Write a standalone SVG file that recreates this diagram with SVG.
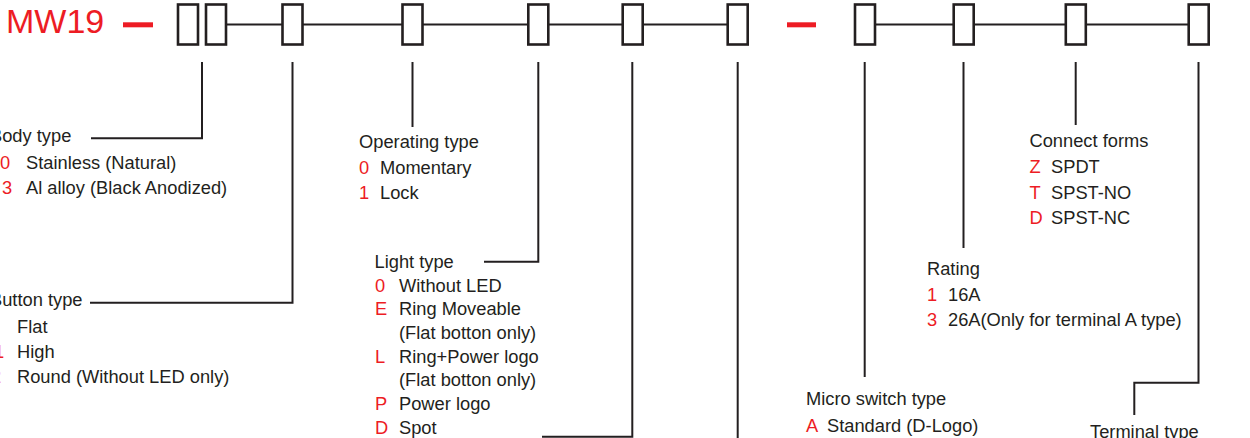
<svg xmlns="http://www.w3.org/2000/svg" width="1250" height="438" viewBox="0 0 1250 438">
<style>
text{font-family:"Liberation Sans",Arial,sans-serif;font-size:18.3px;fill:#231f20}
.r{fill:#ed1c24}
.box{fill:#fff;stroke:#231f20;stroke-width:2.6}
.ln{fill:none;stroke:#231f20;stroke-width:2}
.dash{fill:#ed1c24}
</style>
<rect width="1250" height="438" fill="#fff"/>
<g id="code">
<text x="6" y="33" class="r" style="font-size:34px">MW19</text>
<rect class="dash" x="123" y="22.3" width="30" height="5"/>
<rect class="dash" x="787" y="22.3" width="29" height="5"/>
</g>
<g id="connectors">
<path class="ln" d="M227 24.5H282.5M303 24.5H402.5M422.5 24.5H528.3M548.3 24.5H622.7M642.7 24.5H727.7M875 24.5H953.7M973.7 24.5H1065.8M1085.8 24.5H1188.7"/>
<path class="ln" d="M202 62V138.3H91"/>
<path class="ln" d="M292.5 62V302.7H90"/>
<path class="ln" d="M412.5 62V127"/>
<path class="ln" d="M538.3 62V261.7H484"/>
<path class="ln" d="M632.3 62V436.7H542"/>
<path class="ln" d="M737.7 62V440"/>
<path class="ln" d="M864.7 62V377"/>
<path class="ln" d="M963.5 62V248"/>
<path class="ln" d="M1075.7 62V125"/>
<path class="ln" d="M1198.5 62V382.7H1134.3V415"/>
</g>
<g id="boxes">
<rect class="box" x="178" y="4.5" width="20" height="40"/>
<rect class="box" x="206" y="4.5" width="20" height="40"/>
<rect class="box" x="282.5" y="4.5" width="20" height="40"/>
<rect class="box" x="402.5" y="4.5" width="20" height="40"/>
<rect class="box" x="528.3" y="4.5" width="20" height="40"/>
<rect class="box" x="622.7" y="4.5" width="20" height="40"/>
<rect class="box" x="727.7" y="4.5" width="20" height="40"/>
<rect class="box" x="855" y="4.5" width="20" height="40"/>
<rect class="box" x="953.7" y="4.5" width="20" height="40"/>
<rect class="box" x="1065.8" y="4.5" width="20" height="40"/>
<rect class="box" x="1188.7" y="4.5" width="20" height="40"/>
</g>
<g id="body-type">
<text x="-10" y="142">Body type</text>
<text x="0" y="169" class="r">0</text><text x="26" y="169">Stainless (Natural)</text>
<text x="2" y="194" class="r">3</text><text x="26" y="194">Al alloy (Black Anodized)</text>
</g>
<g id="button-type">
<text x="-10" y="306">Button type</text>
<text x="17" y="333">Flat</text>
<text x="-6" y="358" class="r">1</text><text x="17" y="358">High</text>
<text x="-9" y="383" class="r">2</text><text x="17" y="383">Round (Without LED only)</text>
</g>
<g id="operating-type">
<text x="359" y="147.5">Operating type</text>
<text x="359" y="174" class="r">0</text><text x="380" y="174">Momentary</text>
<text x="359" y="199" class="r">1</text><text x="380" y="199">Lock</text>
</g>
<g id="light-type">
<text x="374.5" y="268">Light type</text>
<text x="375" y="291.7" class="r">0</text><text x="399" y="291.7">Without LED</text>
<text x="375" y="315.4" class="r">E</text><text x="399" y="315.4">Ring Moveable</text>
<text x="399" y="339">(Flat botton only)</text>
<text x="375" y="362.7" class="r">L</text><text x="399" y="362.7">Ring+Power logo</text>
<text x="399" y="386.4">(Flat botton only)</text>
<text x="375" y="410" class="r">P</text><text x="399" y="410">Power logo</text>
<text x="375" y="433.7" class="r">D</text><text x="399" y="433.7">Spot</text>
</g>
<g id="micro-switch-type">
<text x="806" y="405">Micro switch type</text>
<text x="806" y="431.5" class="r">A</text><text x="827" y="431.5">Standard (D-Logo)</text>
</g>
<g id="rating">
<text x="927" y="275">Rating</text>
<text x="927" y="300.5" class="r">1</text><text x="948" y="300.5">16A</text>
<text x="927" y="325.5" class="r">3</text><text x="948" y="325.5">26A(Only for terminal A type)</text>
</g>
<g id="connect-forms">
<text x="1029.5" y="147">Connect forms</text>
<text x="1029.5" y="172.7" class="r">Z</text><text x="1051" y="172.7">SPDT</text>
<text x="1029.5" y="198.5" class="r">T</text><text x="1051" y="198.5">SPST-NO</text>
<text x="1029.5" y="224" class="r">D</text><text x="1051" y="224">SPST-NC</text>
</g>
<g id="terminal-type">
<text x="1090" y="437.5">Terminal type</text>
</g>
</svg>
